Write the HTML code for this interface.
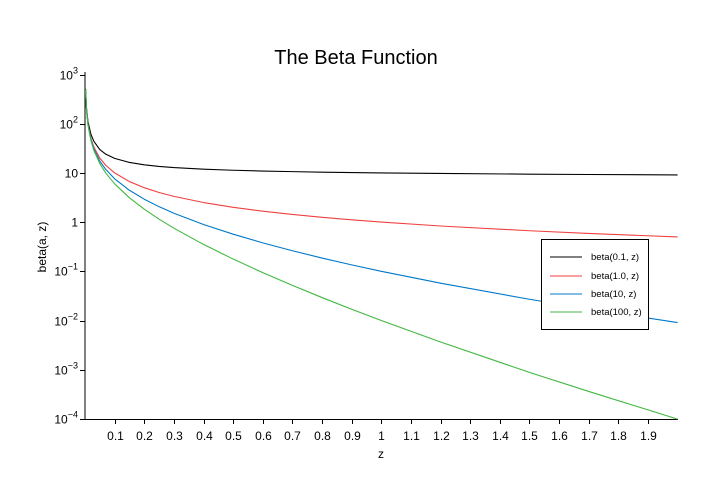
<!DOCTYPE html>
<html><head><meta charset="utf-8"><style>
body{margin:0;background:#fff;}
svg{display:block;font-family:"Liberation Sans",Arial,sans-serif;}
</style></head><body>
<svg id="chart" width="714" height="487" viewBox="0 0 714 487">
<rect width="714" height="487" fill="#fff"/>
<text x="356" y="64" font-size="20" text-anchor="middle">The Beta Function</text>
<g id="axes"></g>
<g id="series"></g>
<text x="381" y="458" font-size="12" text-anchor="middle">z</text>
<text transform="translate(46,247) rotate(-90)" font-size="12" text-anchor="middle">beta(a, z)</text>
<g>
<rect x="541.5" y="239.5" width="107" height="90" fill="#fff" stroke="#000" stroke-width="1"/>
<line x1="550" x2="582" y1="257" y2="257" stroke="#000"/>
<text x="591" y="260" font-size="9.5">beta(0.1, z)</text>
<line x1="550" x2="582" y1="276" y2="276" stroke="#f04040"/>
<text x="591" y="279" font-size="9.5">beta(1.0, z)</text>
<line x1="550" x2="582" y1="294" y2="294" stroke="#0078c8"/>
<text x="591" y="297" font-size="9.5">beta(10, z)</text>
<line x1="550" x2="582" y1="312" y2="312" stroke="#40b840"/>
<text x="591" y="315" font-size="9.5">beta(100, z)</text>
</g>
</svg>
<script>
const zValues=[0.002,0.005,0.01,0.02,0.03,0.05,0.07,0.1,0.15,0.2,0.25,0.3,0.4,0.5,0.6,0.7,0.8,0.9,1,1.2,1.5,1.7,2];
const beta01=[509.8,210.8,110.9,60.6,43.92,29.78,24.02,19.71,16.32,14.60,13.55,12.83,11.91,11.32,10.91,10.61,10.36,10.17,10.0,9.733,9.436,9.281,9.091];
const beta1=[500,200,100,50,33.33,20,14.29,10,6.667,5,4,3.333,2.5,2,1.667,1.429,1.25,1.111,1,0.8333,0.6667,0.5882,0.5];
const beta10=[497,197.2,97.25,47.25,30.64,17.40,11.77,7.591,4.433,2.920,2.058,1.515,0.8937,0.5675,0.3786,0.2617,0.1860,0.1351,0.1,0.05724,0.02702,0.01712,0.00909];
const beta100=[494.8,194.9,94.96,45.09,28.55,15.47,9.93,6.003,3.118,1.828,1.1465,0.7515,0.3516,0.1773,0.09397,0.05168,0.02925,0.01694,0.01,0.003655,0.000883,0.0003617,0.000099];
const xTicks=[0.1,0.2,0.3,0.4,0.5,0.6,0.7,0.8,0.9,1,1.1,1.2,1.3,1.4,1.5,1.6,1.7,1.8,1.9];
const yExps=[3,2,1,0,-1,-2,-3,-4];
const NS="http://www.w3.org/2000/svg";
const X0=85,XS=296.3;
function xs(z){return X0+z*XS;}
const Y3=74.5,DEC=49.2;
function ys(v){return Y3+(3-Math.log10(v))*DEC;}
const axes=document.getElementById('axes');
function mk(tag,attrs,parent){const e=document.createElementNS(NS,tag);for(const k in attrs)e.setAttribute(k,attrs[k]);parent.appendChild(e);return e;}
const ya=mk('line',{x1:85,x2:85,y1:72,y2:419.5,stroke:'#000'},axes);


const xa=mk('line',{x1:85,x2:678,y1:419.5,y2:419.5,stroke:'#000'},axes);


xTicks.forEach(t=>{
  const x=Math.round(xs(t))+0.5;
  mk('line',{x1:x,x2:x,y1:419.5,y2:424,stroke:'#000'},axes);
  const tx=mk('text',{x:x,y:440,'font-size':12,'text-anchor':'middle'},axes);
  tx.textContent=String(t);
  
  
});
yExps.forEach(e=>{
  const y=Math.round(ys(Math.pow(10,e)))+0.5;
  mk('line',{x1:80,x2:85,y1:y,y2:y,stroke:'#000'},axes);
  const tx=mk('text',{x:78,y:y+4,'font-size':12,'text-anchor':'end'},axes);
  
  
  if(e===1)tx.textContent='10';
  else if(e===0)tx.textContent='1';
  else{
    tx.textContent='10';
    const s=document.createElementNS(NS,'tspan');
    s.setAttribute('dy','-6');s.setAttribute('font-size','9');
    s.textContent=String(e).replace('-','\u2212');
    tx.appendChild(s);
  }
});
const series=document.getElementById('series');
const sets=[[beta01,'#000','series-beta-0-1'],[beta1,'#f04040','series-beta-1'],[beta10,'#0078c8','series-beta-10'],[beta100,'#40b840','series-beta-100']];
sets.forEach(([vals,col,name])=>{
  const d=vals.map((v,i)=>(i?'L':'M')+xs(zValues[i]).toFixed(2)+','+Math.max(ys(v),72).toFixed(2)).join(' ');
  const p=mk('path',{d:d,fill:'none',stroke:col,'stroke-width':1.1,'stroke-linejoin':'round'},series);
  
  
});
</script>
</body></html>
